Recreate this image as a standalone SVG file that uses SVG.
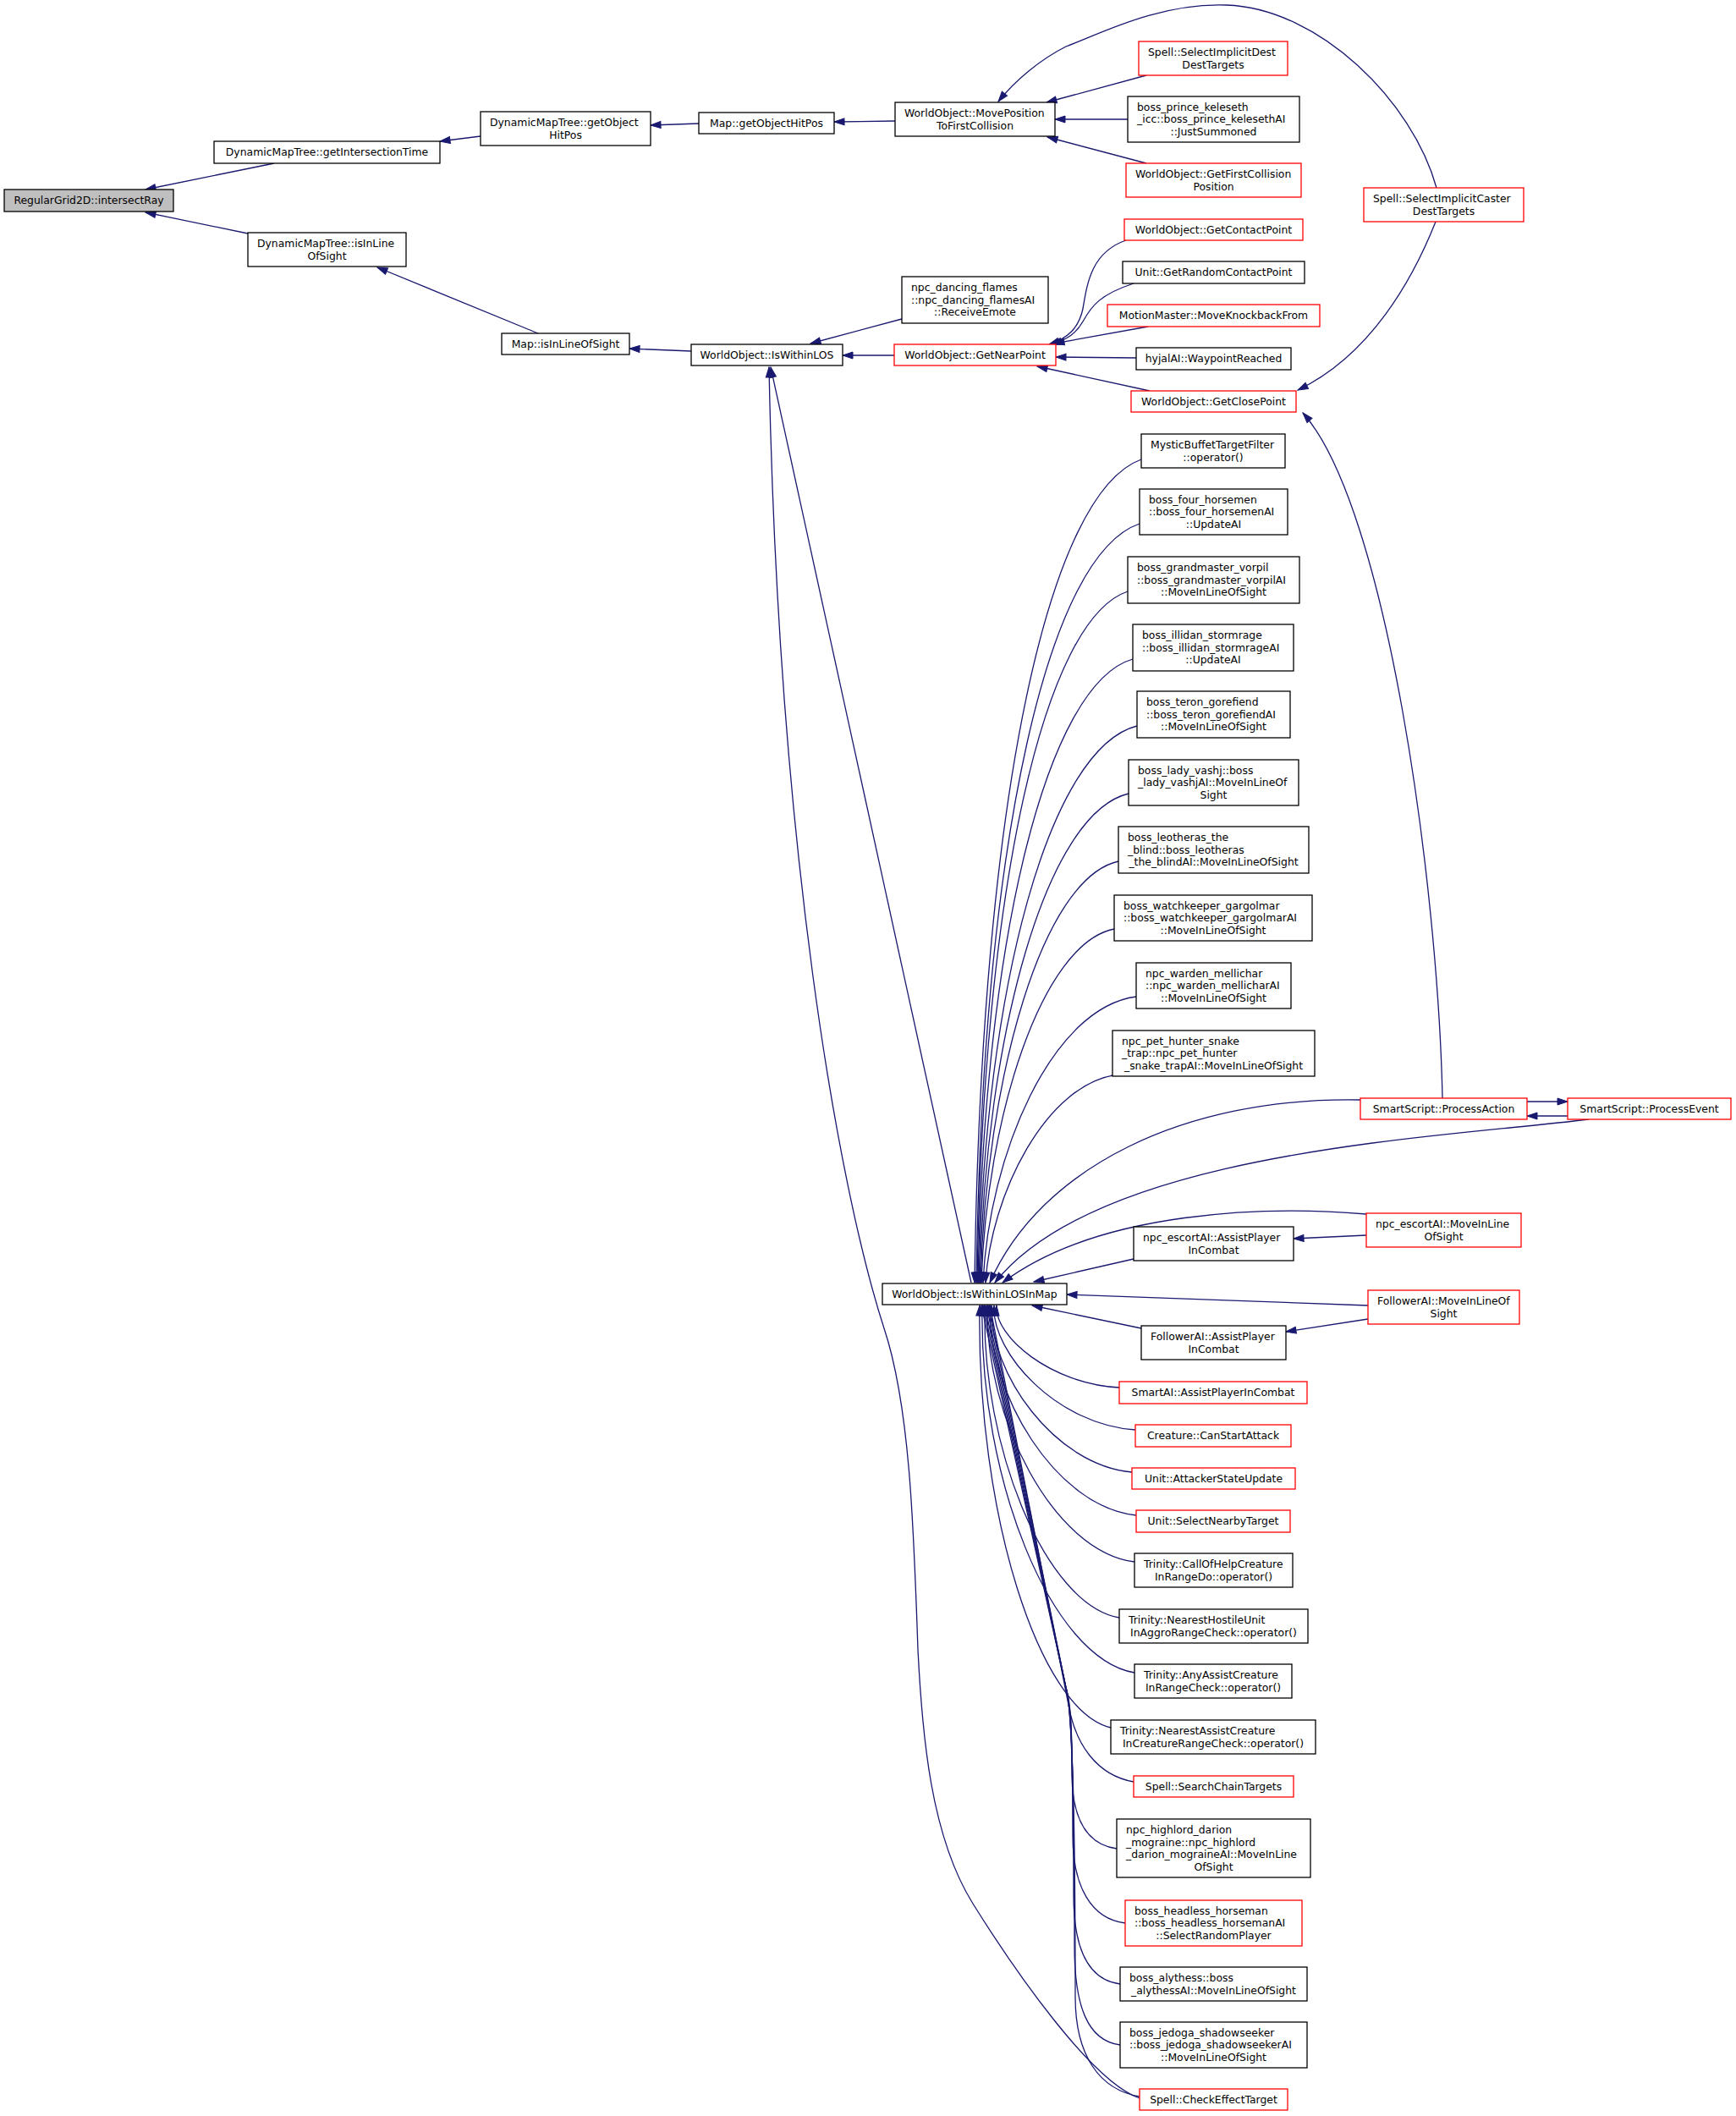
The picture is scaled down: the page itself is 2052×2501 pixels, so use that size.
<svg xmlns="http://www.w3.org/2000/svg" width="2052" height="2501" viewBox="0 0 2052 2501">
<style>
.n rect{fill:#fff;stroke:#000;stroke-width:1.3}
.r rect{stroke:#f00}
.root rect{fill:#bfbfbf}
text{font-family:"DejaVu Sans","Liberation Sans",sans-serif;font-size:12.4px;fill:#000}
.c{text-anchor:middle}
#edges path{fill:none;stroke:#191970;stroke-width:1.3;marker-end:url(#a)}
</style>
<defs>
<marker id="a" markerUnits="userSpaceOnUse" markerWidth="14" markerHeight="10" refX="12" refY="4.5" orient="auto" overflow="visible">
<path d="M0,0.5 L12,4.5 L0,8.5 z" fill="#191970" stroke="#191970" stroke-width="1"/>
</marker>
</defs>
<rect width="2052" height="2501" fill="#fff"/>
<g id="edges">
<path d="M324,193 L172,224"/>
<path d="M293,276 L172,251"/>
<path d="M568,161 L520,167"/>
<path d="M826,146 L769,148"/>
<path d="M1058,143 L986,144"/>
<path d="M636,394 L446,316"/>
<path d="M817,415 L744,412"/>
<path d="M1066,377 L958,406"/>
<path d="M1057,420 L996,420"/>
<path d="M1148,1516 L911,434"/>
<path d="M1347,2480 C1290,2460 1200,2330 1150,2250 C1100,2170 1090,2050 1085,1950 C1080,1800 1075,1660 1045,1570 C990,1400 920,1000 909,434"/>
<path d="M1355,89 L1237,121"/>
<path d="M1333,141 L1247,141"/>
<path d="M1355,193 L1238,162"/>
<path d="M1698,222 C1670,120 1560,10 1450,6 C1370,3 1300,40 1260,55 C1230,70 1200,95 1180,120"/>
<path d="M1697,262 C1670,330 1620,420 1534,461"/>
<path d="M1705,1298 C1700,1050 1640,600 1540,488"/>
<path d="M1331,284 C1290,298 1285,335 1280,365 C1275,388 1262,400 1240,407"/>
<path d="M1340,335 C1300,348 1290,362 1280,380 C1272,394 1262,401 1243,407"/>
<path d="M1357,386 L1246,406"/>
<path d="M1343,423 L1248,422"/>
<path d="M1359,462 L1226,433"/>
<path d="M1349,543 C1241,582 1160,932 1152,1516"/>
<path d="M1347,619 C1241,655 1162,978 1154,1516"/>
<path d="M1333,699 C1235,732 1162,1044 1155,1516"/>
<path d="M1339,779 C1238,808 1163,1107 1156,1516"/>
<path d="M1344,858 C1241,884 1164,1165 1157,1516"/>
<path d="M1334,938 C1237,961 1165,1221 1158,1516"/>
<path d="M1322,1018 C1232,1038 1166,1272 1159,1516"/>
<path d="M1317,1098 C1231,1115 1166,1321 1160,1516"/>
<path d="M1343,1178 C1243,1191 1169,1365 1162,1516"/>
<path d="M1322,1270 C1236,1280 1171,1413 1165,1516"/>
<path d="M1608,1300 C1400,1296 1230,1380 1170,1516"/>
<path d="M1878,1323 C1700,1345 1300,1360 1176,1516"/>
<path d="M1615,1435 C1500,1425 1300,1430 1185,1516"/>
<path d="M1340,1488 L1222,1515"/>
<path d="M1805,1302 L1853,1302"/>
<path d="M1853,1319 L1805,1319"/>
<path d="M1615,1460 L1529,1464"/>
<path d="M1617,1543 L1261,1530"/>
<path d="M1617,1559 L1520,1574"/>
<path d="M1349,1570 L1220,1543"/>
<path d="M1323,1640 C1243,1636 1175,1580 1178,1543"/>
<path d="M1342,1690 C1250,1684 1172,1600 1175,1543"/>
<path d="M1338,1740 C1247,1732 1169,1623 1172,1543"/>
<path d="M1343,1791 C1248,1781 1167,1647 1170,1543"/>
<path d="M1341,1846 C1245,1834 1164,1675 1167,1543"/>
<path d="M1323,1912 C1236,1897 1160,1710 1164,1543"/>
<path d="M1341,1977 C1242,1960 1157,1747 1161,1543"/>
<path d="M1313,2042 C1228,2022 1154,1787 1158,1543"/>
<path d="M1340,2106 C1295,2098 1272,2060 1264,2020 L1170,1543"/>
<path d="M1320,2185 C1285,2180 1268,2150 1267,2100 C1267,2040 1266,2015 1260,1995 L1168,1543"/>
<path d="M1330,2273 C1290,2268 1268,2230 1268,2170 C1268,2060 1266,2015 1260,1995 L1166,1543"/>
<path d="M1324,2345 C1285,2340 1269,2300 1269,2240 C1269,2080 1266,2015 1260,1995 L1164,1543"/>
<path d="M1324,2417 C1285,2412 1270,2370 1270,2300 C1270,2100 1266,2015 1260,1995 L1162,1543"/>
<path d="M1347,2478 C1300,2470 1271,2430 1271,2360 C1271,2100 1266,2015 1260,1995 L1160,1543"/>
</g>
<g id="n1" class="n root"><rect x="5" y="224" width="200" height="26"/><text class="c" x="105" y="241.4">RegularGrid2D::intersectRay</text></g>
<g id="n2" class="n"><rect x="253" y="167" width="267" height="26"/><text class="c" x="386.5" y="184.4">DynamicMapTree::getIntersectionTime</text></g>
<g id="n3" class="n"><rect x="293" y="275" width="187" height="40"/><text x="304" y="292">DynamicMapTree::isInLine</text><text class="c" x="386.5" y="306.5">OfSight</text></g>
<g id="n4" class="n"><rect x="568" y="132" width="201" height="40"/><text x="579" y="149">DynamicMapTree::getObject</text><text class="c" x="668.5" y="163.5">HitPos</text></g>
<g id="n5" class="n"><rect x="826" y="133" width="160" height="25"/><text class="c" x="906" y="149.9">Map::getObjectHitPos</text></g>
<g id="n6" class="n"><rect x="593" y="394" width="151" height="25"/><text class="c" x="668.5" y="410.9">Map::isInLineOfSight</text></g>
<g id="n7" class="n"><rect x="817" y="407" width="179" height="25"/><text class="c" x="906.5" y="423.9">WorldObject::IsWithinLOS</text></g>
<g id="n8" class="n"><rect x="1058" y="121" width="189" height="40"/><text x="1069" y="138">WorldObject::MovePosition</text><text class="c" x="1152.5" y="152.5">ToFirstCollision</text></g>
<g id="n9" class="n"><rect x="1066" y="327" width="173" height="55"/><text x="1077" y="344.2">npc_dancing_flames</text><text x="1077" y="358.7">::npc_dancing_flamesAI</text><text class="c" x="1152.5" y="373.2">::ReceiveEmote</text></g>
<g id="n10" class="n r"><rect x="1057" y="407" width="191" height="25"/><text class="c" x="1152.5" y="423.9">WorldObject::GetNearPoint</text></g>
<g id="n11" class="n r"><rect x="1346" y="49" width="176" height="40"/><text x="1357" y="66">Spell::SelectImplicitDest</text><text class="c" x="1434" y="80.5">DestTargets</text></g>
<g id="n12" class="n"><rect x="1333" y="114" width="203" height="54"/><text x="1344" y="130.7">boss_prince_keleseth</text><text x="1344" y="145.2">_icc::boss_prince_kelesethAI</text><text class="c" x="1434.5" y="159.7">::JustSummoned</text></g>
<g id="n13" class="n r"><rect x="1331" y="193" width="207" height="40"/><text x="1342" y="210">WorldObject::GetFirstCollision</text><text class="c" x="1434.5" y="224.5">Position</text></g>
<g id="n14" class="n r"><rect x="1612" y="222" width="189" height="40"/><text x="1623" y="239">Spell::SelectImplicitCaster</text><text class="c" x="1706.5" y="253.5">DestTargets</text></g>
<g id="n15" class="n r"><rect x="1329" y="259" width="211" height="25"/><text class="c" x="1434.5" y="275.9">WorldObject::GetContactPoint</text></g>
<g id="n16" class="n"><rect x="1327" y="309" width="215" height="26"/><text class="c" x="1434.5" y="326.4">Unit::GetRandomContactPoint</text></g>
<g id="n17" class="n r"><rect x="1309" y="360" width="251" height="26"/><text class="c" x="1434.5" y="377.4">MotionMaster::MoveKnockbackFrom</text></g>
<g id="n18" class="n"><rect x="1343" y="411" width="183" height="26"/><text class="c" x="1434.5" y="428.4">hyjalAI::WaypointReached</text></g>
<g id="n19" class="n r"><rect x="1337" y="462" width="195" height="25"/><text class="c" x="1434.5" y="478.9">WorldObject::GetClosePoint</text></g>
<g id="n20" class="n"><rect x="1349" y="513" width="170" height="40"/><text x="1360" y="530">MysticBuffetTargetFilter</text><text class="c" x="1434" y="544.5">::operator()</text></g>
<g id="n21" class="n"><rect x="1347" y="578" width="175" height="54"/><text x="1358" y="594.7">boss_four_horsemen</text><text x="1358" y="609.2">::boss_four_horsemenAI</text><text class="c" x="1434.5" y="623.7">::UpdateAI</text></g>
<g id="n22" class="n"><rect x="1333" y="658" width="203" height="55"/><text x="1344" y="675.2">boss_grandmaster_vorpil</text><text x="1344" y="689.7">::boss_grandmaster_vorpilAI</text><text class="c" x="1434.5" y="704.2">::MoveInLineOfSight</text></g>
<g id="n23" class="n"><rect x="1339" y="738" width="190" height="55"/><text x="1350" y="755.2">boss_illidan_stormrage</text><text x="1350" y="769.7">::boss_illidan_stormrageAI</text><text class="c" x="1434" y="784.2">::UpdateAI</text></g>
<g id="n24" class="n"><rect x="1344" y="817" width="181" height="55"/><text x="1355" y="834.2">boss_teron_gorefiend</text><text x="1355" y="848.7">::boss_teron_gorefiendAI</text><text class="c" x="1434.5" y="863.2">::MoveInLineOfSight</text></g>
<g id="n25" class="n"><rect x="1334" y="898" width="201" height="54"/><text x="1345" y="914.7">boss_lady_vashj::boss</text><text x="1345" y="929.2">_lady_vashjAI::MoveInLineOf</text><text class="c" x="1434.5" y="943.7">Sight</text></g>
<g id="n26" class="n"><rect x="1322" y="977" width="225" height="55"/><text x="1333" y="994.2">boss_leotheras_the</text><text x="1333" y="1008.7">_blind::boss_leotheras</text><text class="c" x="1434.5" y="1023.2">_the_blindAI::MoveInLineOfSight</text></g>
<g id="n27" class="n"><rect x="1317" y="1058" width="234" height="54"/><text x="1328" y="1074.7">boss_watchkeeper_gargolmar</text><text x="1328" y="1089.2">::boss_watchkeeper_gargolmarAI</text><text class="c" x="1434" y="1103.7">::MoveInLineOfSight</text></g>
<g id="n28" class="n"><rect x="1343" y="1138" width="183" height="54"/><text x="1354" y="1154.7">npc_warden_mellichar</text><text x="1354" y="1169.2">::npc_warden_mellicharAI</text><text class="c" x="1434.5" y="1183.7">::MoveInLineOfSight</text></g>
<g id="n29" class="n"><rect x="1315" y="1218" width="239" height="54"/><text x="1326" y="1234.7">npc_pet_hunter_snake</text><text x="1326" y="1249.2">_trap::npc_pet_hunter</text><text class="c" x="1434.5" y="1263.7">_snake_trapAI::MoveInLineOfSight</text></g>
<g id="n30" class="n r"><rect x="1608" y="1298" width="197" height="25"/><text class="c" x="1706.5" y="1314.9">SmartScript::ProcessAction</text></g>
<g id="n31" class="n r"><rect x="1853" y="1298" width="193" height="25"/><text class="c" x="1949.5" y="1314.9">SmartScript::ProcessEvent</text></g>
<g id="n32" class="n"><rect x="1043" y="1517" width="218" height="25"/><text class="c" x="1152" y="1533.9">WorldObject::IsWithinLOSInMap</text></g>
<g id="n33" class="n"><rect x="1340" y="1450" width="189" height="40"/><text x="1351" y="1467">npc_escortAI::AssistPlayer</text><text class="c" x="1434.5" y="1481.5">InCombat</text></g>
<g id="n34" class="n r"><rect x="1615" y="1434" width="183" height="40"/><text x="1626" y="1451">npc_escortAI::MoveInLine</text><text class="c" x="1706.5" y="1465.5">OfSight</text></g>
<g id="n35" class="n"><rect x="1349" y="1567" width="171" height="40"/><text x="1360" y="1584">FollowerAI::AssistPlayer</text><text class="c" x="1434.5" y="1598.5">InCombat</text></g>
<g id="n36" class="n r"><rect x="1617" y="1525" width="179" height="40"/><text x="1628" y="1542">FollowerAI::MoveInLineOf</text><text class="c" x="1706.5" y="1556.5">Sight</text></g>
<g id="n37" class="n r"><rect x="1323" y="1633" width="222" height="26"/><text class="c" x="1434" y="1650.4">SmartAI::AssistPlayerInCombat</text></g>
<g id="n38" class="n r"><rect x="1342" y="1684" width="184" height="26"/><text class="c" x="1434" y="1701.4">Creature::CanStartAttack</text></g>
<g id="n39" class="n r"><rect x="1338" y="1735" width="193" height="25"/><text class="c" x="1434.5" y="1751.9">Unit::AttackerStateUpdate</text></g>
<g id="n40" class="n r"><rect x="1343" y="1785" width="182" height="26"/><text class="c" x="1434" y="1802.4">Unit::SelectNearbyTarget</text></g>
<g id="n41" class="n"><rect x="1341" y="1836" width="187" height="40"/><text x="1352" y="1853">Trinity::CallOfHelpCreature</text><text class="c" x="1434.5" y="1867.5">InRangeDo::operator()</text></g>
<g id="n42" class="n"><rect x="1323" y="1902" width="223" height="40"/><text x="1334" y="1919">Trinity::NearestHostileUnit</text><text class="c" x="1434.5" y="1933.5">InAggroRangeCheck::operator()</text></g>
<g id="n43" class="n"><rect x="1341" y="1967" width="186" height="40"/><text x="1352" y="1984">Trinity::AnyAssistCreature</text><text class="c" x="1434" y="1998.5">InRangeCheck::operator()</text></g>
<g id="n44" class="n"><rect x="1313" y="2033" width="242" height="40"/><text x="1324" y="2050">Trinity::NearestAssistCreature</text><text class="c" x="1434" y="2064.5">InCreatureRangeCheck::operator()</text></g>
<g id="n45" class="n r"><rect x="1340" y="2099" width="189" height="25"/><text class="c" x="1434.5" y="2115.9">Spell::SearchChainTargets</text></g>
<g id="n46" class="n"><rect x="1320" y="2150" width="229" height="69"/><text x="1331" y="2167">npc_highlord_darion</text><text x="1331" y="2181.5">_mograine::npc_highlord</text><text x="1331" y="2196">_darion_mograineAI::MoveInLine</text><text class="c" x="1434.5" y="2210.5">OfSight</text></g>
<g id="n47" class="n r"><rect x="1330" y="2246" width="209" height="54"/><text x="1341" y="2262.7">boss_headless_horseman</text><text x="1341" y="2277.2">::boss_headless_horsemanAI</text><text class="c" x="1434.5" y="2291.7">::SelectRandomPlayer</text></g>
<g id="n48" class="n"><rect x="1324" y="2325" width="221" height="40"/><text x="1335" y="2342">boss_alythess::boss</text><text class="c" x="1434.5" y="2356.5">_alythessAI::MoveInLineOfSight</text></g>
<g id="n49" class="n"><rect x="1324" y="2390" width="221" height="54"/><text x="1335" y="2406.7">boss_jedoga_shadowseeker</text><text x="1335" y="2421.2">::boss_jedoga_shadowseekerAI</text><text class="c" x="1434.5" y="2435.7">::MoveInLineOfSight</text></g>
<g id="n50" class="n r"><rect x="1347" y="2469" width="175" height="25"/><text class="c" x="1434.5" y="2485.9">Spell::CheckEffectTarget</text></g>
</svg>
